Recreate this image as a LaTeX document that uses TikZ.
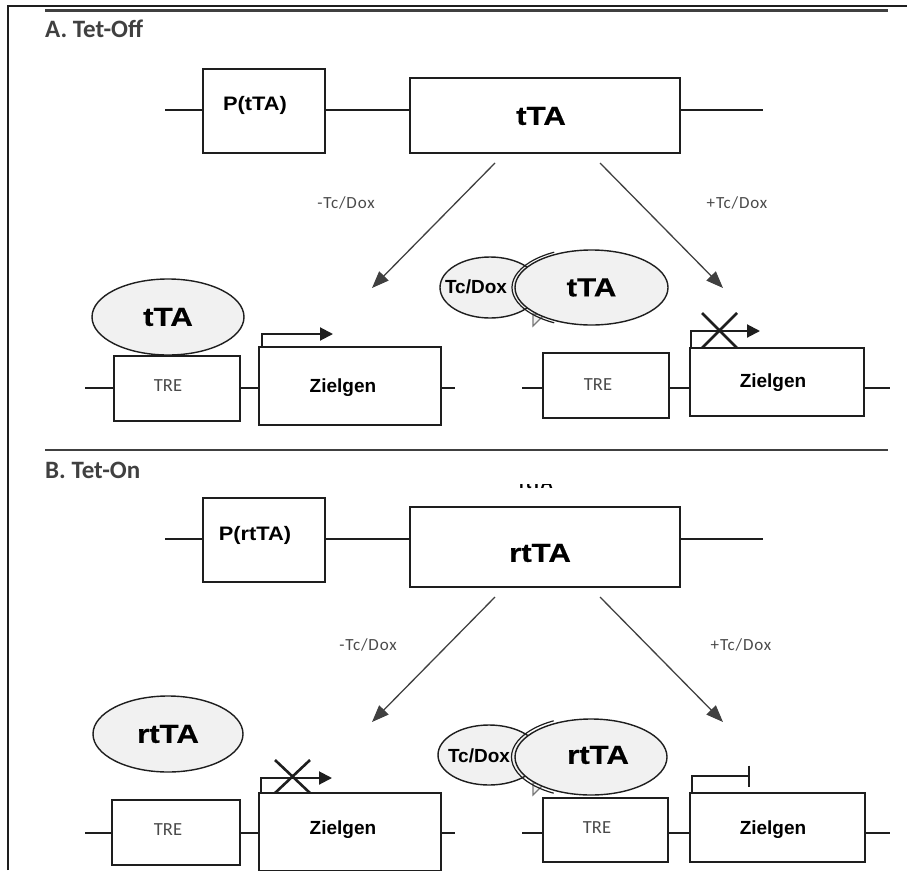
\documentclass[tikz,border=0pt]{standalone}
\usepackage{fontspec}
\setmainfont{Liberation Sans}
\newfontfamily\calib{Carlito}
\newfontfamily\widesans[FakeStretch=1.2,FakeBold=0.4]{Liberation Sans Bold}
\newfontfamily\midsans[FakeStretch=1.12]{Liberation Sans Bold}
\newfontfamily\widecalib[LetterSpace=5]{Carlito}
\usetikzlibrary{arrows.meta,shapes.geometric}
\definecolor{ink}{HTML}{1E1E1E}
\definecolor{blobfill}{HTML}{F1F1F1}
\definecolor{soft}{HTML}{4A4A4A}

\begin{document}
\begin{tikzpicture}[x=1pt,y=-1pt,
  gbox/.style={draw=ink,line width=2pt,inner sep=0pt,outer sep=0pt,fill=white},
  genebox/.style={gbox,line width=2.6pt},
  wire/.style={draw=ink,line width=1.8pt},
  blob/.style={ellipse,draw=ink,line width=1.4pt,fill=blobfill,inner sep=0pt},
  bigtxt/.style={font=\widesans\fontsize{26}{26}\selectfont,inner sep=0pt},
  midtxt/.style={font=\fontsize{19}{19}\selectfont\bfseries,inner sep=0pt},
  promtxt/.style={font=\midsans\fontsize{19.5}{19.5}\selectfont,inner sep=0pt},
  tretxt/.style={font=\calib\fontsize{18.5}{18.5}\selectfont,text=soft,inner sep=0pt},
  condtxt/.style={font=\widecalib\fontsize{17}{17}\selectfont,text=soft,inner sep=0pt},
  headtxt/.style={font=\calib\bfseries\fontsize{25}{25}\selectfont,text=ink!85,anchor=west,inner sep=0pt},
  flow/.style={draw=ink!85,line width=1.3pt,-{Triangle[length=17pt,width=13pt]}},
  prom/.style={draw=ink,line width=2pt,-{Triangle[length=13pt,width=13pt]}},
  blocked/.style={draw=ink,line width=2pt,-{Bar[width=21pt,line width=2.4pt]}},
  cross/.style={draw=ink,line width=2.6pt},
  ring/.style={draw=ink,line width=1.2pt}]

\useasboundingbox (0,0) rectangle (907,870);

% page frame and section rules
\draw[ink,line width=2pt] (8,870) -- (8,6) -- (907,6);
\draw[ink!85,line width=2.2pt] (45,10.5) -- (888,10.5);
\draw[ink!85,line width=2.2pt] (45,450) -- (888,450);

\node[headtxt] (headA) at (45,29) {A. Tet-Off};
\node[headtxt] (headB) at (45,470) {B. Tet-On};

% ---------------- A: Tet-Off ----------------
\node[gbox,minimum width=122pt,minimum height=84pt] (pA) at (264,111) {};
\node[gbox,line width=2.4pt,minimum width=270pt,minimum height=75pt] (tA) at (545,115.5) {};
\node[promtxt] (pAt) at (255,105) {P(tTA)};
\node[bigtxt] (tAt) at (541,116) {tTA};
\coordinate (lA) at (165,110);
\coordinate (rA) at (763,110);
\draw[wire] (lA) -- (lA -| pA.west);
\draw[wire] (lA -| pA.east) -- (lA -| tA.west);
\draw[wire] (lA -| tA.east) -- (rA);

\coordinate (aAl0) at (495,163); \coordinate (aAl1) at (372,288);
\coordinate (aAr0) at (600,163); \coordinate (aAr1) at (723,288);
\draw[flow] (aAl0) -- (aAl1);
\draw[flow] (aAr0) -- (aAr1);
\node[condtxt] (mA) at (346,203) {-Tc/Dox};
\node[condtxt] (pAx) at (737,203) {+Tc/Dox};

% left: activator bound to TRE
\coordinate (glA) at (85,388);
\node[gbox,minimum width=126pt,minimum height=65pt] (treAl) at (177,388.5) {};
\node[genebox,minimum width=182pt,minimum height=78pt] (zAl) at (350,386) {};
\coordinate (grA) at (455,388);
\draw[wire] (glA) -- (glA -| treAl.west);
\draw[wire] (glA -| treAl.east) -- (glA -| zAl.west);
\draw[wire] (glA -| zAl.east) -- (grA);
\node[tretxt] (treAlt) at (168,386) {TRE};
\node[midtxt] (zAlt) at (343,388) {Zielgen};
\node[blob,minimum width=152pt,minimum height=76pt,bigtxt] (eAl) at (168,317) {tTA};
\draw[prom] ([xshift=3pt]zAl.north west) -- ++(0,-13) -- ++(71,0);

% right: activator held by Tc/Dox
\coordinate (glB) at (522,388);
\node[gbox,minimum width=126pt,minimum height=65pt] (treAr) at (606,385.5) {};
\node[genebox,minimum width=174pt,minimum height=68pt] (zAr) at (777,382) {};
\coordinate (grB) at (890,388);
\draw[wire] (glB) -- (glB -| treAr.west);
\draw[wire] (glB -| treAr.east) -- (glB -| zAr.west);
\draw[wire] (glB -| zAr.east) -- (grB);
\node[tretxt] (treArt) at (598,385) {TRE};
\node[midtxt] (zArt) at (773,383) {Zielgen};
\draw[prom] ([xshift=1pt]zAr.north west) -- ++(0,-17) -- ++(69,0);
\draw[cross] (702,313) -- (737,348) (737,313) -- (702,348);

\node[blob,minimum width=100pt,minimum height=61pt] (dA) at (490,287.5) {};
\draw[ring,draw=ink!60,fill=blobfill] (533,314) -- (533,326) -- (544,315) -- cycle;
\node[blob,minimum width=153pt,minimum height=75pt,bigtxt] (eAr) at (591.5,287.5) {tTA};
\draw[ring] (eAr.center) ++(118:79.5pt and 40pt) arc[start angle=118,end angle=242,x radius=79.5pt,y radius=40pt];
\node[midtxt] (dAt) at (476,287) {Tc/Dox};

% ---------------- B: Tet-On ----------------
\begin{scope}
  \clip (495,484.5) rectangle (580,506);
  \node[font=\fontsize{17}{17}\selectfont\bfseries,inner sep=0pt] (ghost) at (536,483) {rtTA};
\end{scope}
\node[gbox,minimum width=122pt,minimum height=84pt] (pB) at (264,540) {};
\node[gbox,line width=2.4pt,minimum width=270pt,minimum height=80pt] (tB) at (545,547) {};
\node[promtxt] (pBt) at (255,535) {P(rtTA)};
\node[bigtxt] (tBt) at (540,553) {rtTA};
\coordinate (lB) at (165,539);
\coordinate (rB) at (763,539);
\draw[wire] (lB) -- (lB -| pB.west);
\draw[wire] (lB -| pB.east) -- (lB -| tB.west);
\draw[wire] (lB -| tB.east) -- (rB);

\coordinate (aBl0) at (495,597); \coordinate (aBl1) at (372,722);
\coordinate (aBr0) at (600,597); \coordinate (aBr1) at (723,722);
\draw[flow] (aBl0) -- (aBl1);
\draw[flow] (aBr0) -- (aBr1);
\node[condtxt] (mB) at (368,645) {-Tc/Dox};
\node[condtxt] (pBx) at (741,645) {+Tc/Dox};

% left: free reverse activator, gene silent
\coordinate (glC) at (85,833);
\node[gbox,minimum width=128pt,minimum height=65pt] (treBl) at (176,832.5) {};
\node[genebox,minimum width=182pt,minimum height=78pt] (zBl) at (350,832) {};
\coordinate (grC) at (455,833);
\draw[wire] (glC) -- (glC -| treBl.west);
\draw[wire] (glC -| treBl.east) -- (glC -| zBl.west);
\draw[wire] (glC -| zBl.east) -- (grC);
\node[tretxt] (treBlt) at (168,830) {TRE};
\node[midtxt] (zBlt) at (343,830) {Zielgen};
\node[blob,minimum width=150pt,minimum height=76pt,bigtxt] (eBl) at (168,734) {rtTA};
\draw[prom] ([xshift=2pt]zBl.north west) -- ++(0,-15) -- ++(71,0);
\draw[cross] (275,760) -- (310,793) (310,760) -- (275,793);

% right: reverse activator with Tc/Dox, gene on
\coordinate (glD) at (522,833);
\node[gbox,minimum width=125pt,minimum height=64pt] (treBr) at (605.5,830) {};
\node[genebox,minimum width=175pt,minimum height=69pt] (zBr) at (777.5,827.5) {};
\coordinate (grD) at (890,833);
\draw[wire] (glD) -- (glD -| treBr.west);
\draw[wire] (glD -| treBr.east) -- (glD -| zBr.west);
\draw[wire] (glD -| zBr.east) -- (grD);
\node[tretxt] (treBrt) at (597,828) {TRE};
\node[midtxt] (zBrt) at (773,830) {Zielgen};
\draw[blocked] ([xshift=2pt]zBr.north west) -- ++(0,-17) -- ++(58,0);

\node[blob,minimum width=102pt,minimum height=60pt] (dB) at (489,755) {};
\draw[ring,draw=ink!60,fill=blobfill] (533,783) -- (533,795) -- (544,784) -- cycle;
\node[blob,minimum width=152pt,minimum height=76pt,bigtxt] (eBr) at (591,757) {};
\draw[ring] (eBr.center) ++(118:79.5pt and 41pt) arc[start angle=118,end angle=242,x radius=79.5pt,y radius=41pt];
\node[bigtxt] (eBrt) at (598,755) {rtTA};
\node[midtxt] (dBt) at (479,756) {Tc/Dox};

\end{tikzpicture}
\end{document}
